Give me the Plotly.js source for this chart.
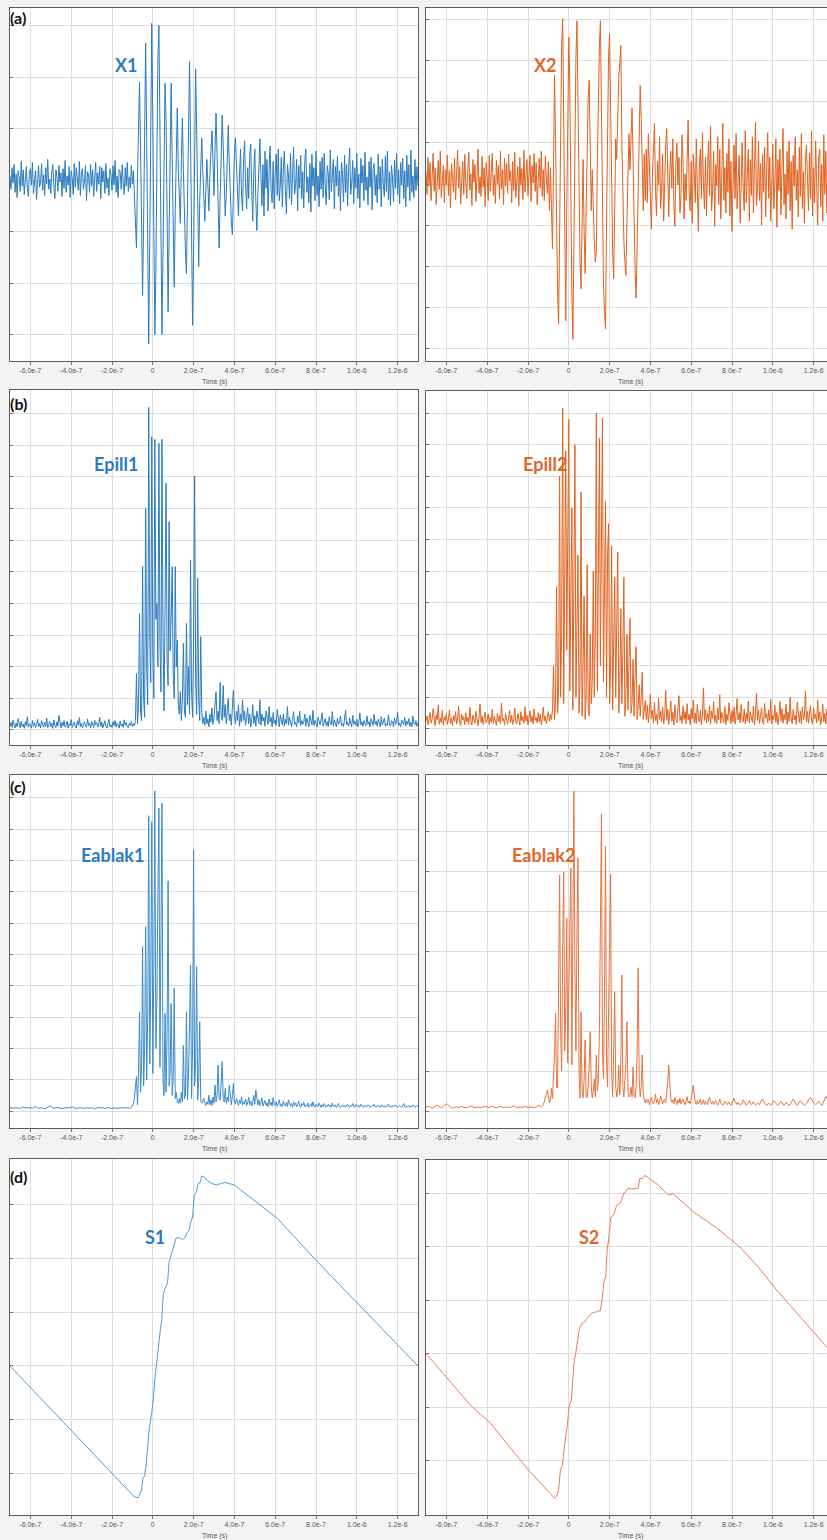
<!DOCTYPE html>
<html>
<head>
<meta charset="utf-8">
<script src="https://cdn.plot.ly/plotly-3.0.1.min.js"></script>
<style>
  html, body { margin: 0; padding: 0; overflow: hidden; background: #f3f3f3; }
  #chart { width: 836px; height: 1540px; }
</style>
</head>
<body>
<div id="chart"></div>
<script>
// Sampling grid of the recorded traces
const timeStart = -7e-7;
const sampleStep = 5e-9;

const xTickValues = [-6e-7, -4e-7, -2e-7, 0, 2e-7, 4e-7, 6e-7, 8e-7, 1e-6, 1.2e-6];
const xTickLabels = ['-6.0e-7', '-4.0e-7', '-2.0e-7', '0', '2.0e-7', '4.0e-7', '6.0e-7', '8.0e-7', '1.0e-6', '1.2e-6'];

// (a) received signals
const x1Values = [
  4,-9,12,-3,15,-12,6,-17,9,2,-11,18,-6,10,-14,3,13,-8,-16,7,
  11,-5,17,-13,2,9,-19,6,14,-7,-2,16,-10,5,-15,12,-4,20,-9,1,
  -13,8,15,-6,-18,10,3,-11,14,-2,7,-16,11,-8,19,-12,4,-5,13,-17,
  9,2,-14,16,-7,12,-3,-10,18,-15,6,11,-9,-1,14,-20,8,5,-12,15,
  -6,10,-16,3,17,-11,7,-4,13,-18,12,-2,9,-13,16,-8,2,-15,11,6,
  -10,14,-5,19,-12,4,-17,10,8,-9,15,-3,-14,12,-6,17,-11,3,-8,14,
  -4,9,-22,-45,-66,5,60,95,30,-50,-112,-40,70,133,40,-80,-159,-60,80,152,
  60,-70,-150,-90,30,120,150,40,-80,-150,-70,30,94,60,-40,-128,-50,40,94,20,
  -60,-104,-30,40,70,10,-30,-42,20,60,10,-40,-70,-91,-20,60,115,40,-60,-141,
  -70,30,108,50,-40,-84,-20,15,41,10,-25,-40,-10,20,-5,-30,5,35,48,20,
  -15,30,65,25,-40,-66,-20,30,63,35,-10,-35,-15,20,53,15,-25,-40,-53,-10,
  25,41,10,-20,-35,5,30,-15,-30,20,38,-5,-28,12,-18,25,35,-10,-40,8,
  30,-20,-49,-15,22,40,5,-25,15,-35,28,-8,20,-30,10,33,-12,-22,18,-28,
  6,25,-15,30,-20,-5,22,-26,12,28,-10,-33,15,5,-18,26,-24,10,32,-14,
  -6,20,-30,14,-8,24,-18,8,-27,19,30,-12,3,-22,16,-31,25,-6,12,-20,
  28,-15,4,-26,18,-9,22,-17,26,-5,-24,14,7,-19,29,-11,2,20,-28,13,
  -6,23,-16,9,-30,17,5,-21,24,-12,15,-25,10,31,-14,-4,19,-23,12,-8,
  26,-18,6,-27,21,-3,14,-20,27,-10,3,-24,18,-7,22,-29,11,16,-15,5,
  -22,25,-9,13,-26,20,-4,-16,23,-11,28,-19,8,-25,14,2,-21,19,-8,26,
  -14,10,-23,17,-5,21,-18,9,-26,24,-7,15,-20,29,-12,4,-17,20,-10,13,
  -6
];

const x2Values = [
  8,-14,22,-6,17,-20,3,26,-11,12,-24,5,19,-9,28,-17,1,14,-22,10,
  -5,24,-15,9,-27,16,2,-12,21,-19,7,29,-8,13,-23,4,18,-14,25,-3,
  -18,11,27,-10,6,-25,20,-2,15,-21,9,30,-13,3,-16,23,-7,12,-26,17,
  1,-20,24,-11,8,26,-15,5,-23,19,-4,14,-18,28,-9,10,-24,21,-6,16,
  -13,25,-1,9,-22,18,-10,27,-17,6,13,-25,22,-5,11,-19,29,-12,4,20,
  -15,8,24,-21,14,-3,26,-11,17,-24,7,21,-8,28,-16,10,-20,23,2,-13,
  18,-30,12,
  -40,-67,10,102,40,-60,-110,-140,-50,60,130,157,50,-90,-137,-30,80,
  139,90,-20,-110,-155,-60,50,120,155,60,-40,-80,-106,-40,20,-50,-91,-30,40,80,
  97,30,-30,10,-40,-60,-80,-70,20,90,130,155,60,-50,-100,-130,-145,-40,60,120,
  142,50,-30,-70,-96,-20,40,20,70,100,115,131,40,-30,-60,-80,-93,-40,20,45,
  10,40,70,20,-50,-90,-115,-60,10,50,92,60,10,-30,25,-20,
  30,-22,45,12,-30,-48,5,38,55,-10,-35,18,-5,42,-28,-12,25,-40,8,33,
  50,-18,-36,10,28,-8,40,-25,-45,15,36,-5,22,-32,-15,44,20,-38,6,-20,
  35,58,-12,-30,18,-42,25,8,-22,40,-8,-50,12,30,-18,46,-5,-28,22,-35,
  10,38,-15,52,-30,-10,28,-45,15,-6,42,-24,30,-38,5,55,-20,12,-32,26,
  -12,40,-35,18,-50,8,34,-18,45,-28,-6,24,-42,15,36,-10,-30,48,-22,5,
  30,-40,20,-15,42,-32,10,56,-25,-8,38,-20,16,-44,25,-12,32,-36,8,46,
  -18,22,-40,14,35,-28,-5,40,-46,20,-10,30,-34,12,50,-24,6,-38,28,-14,
  38,-30,18,-48,24,-6,42,-20,10,-36,32,-16,45,-28,8,-42,20,34,-12,-30,
  26,-18,48,-35,12,-22,38,-8,-44,22,30,-26,15,-40,44,-14,28,-32,6,40,
  -24,18,-38,26,-10
];

// (b) energy, first operator
const epill1Values = [
  1.2,2.4,0.8,3.1,1.5,0.6,2.2,1.0,3.6,1.4,0.7,2.8,1.1,1.9,0.5,2.6,1.3,4.2,0.9,2.0,
  1.6,0.6,3.0,1.2,2.3,0.8,1.7,3.4,1.0,2.1,0.6,2.9,1.4,0.9,2.5,1.1,3.8,0.7,1.8,2.7,
  1.0,2.2,0.5,3.2,1.5,0.8,2.6,1.2,4.6,1.9,0.7,2.4,1.3,3.0,0.9,1.6,2.8,0.6,2.0,1.4,
  3.3,0.8,1.8,2.5,1.1,0.6,2.9,1.5,3.9,1.0,2.2,0.7,1.7,2.6,1.2,0.9,3.5,1.4,2.1,0.6,
  2.7,1.3,0.8,3.1,1.6,2.3,0.9,1.9,4.0,1.1,2.5,0.7,1.5,2.9,1.2,0.6,2.0,3.4,1.0,1.7,
  0.8,2.6,1.4,3.0,0.9,2.2,1.6,0.6,2.8,1.3,1.9,0.8,3.2,1.5,2.4,1.0,0.7,2.1,1.4,2.7,
  1.1,2.0,1.3,
  3,17.9,2,8,36.8,6,3,51.6,10,4,70,20,8,101.9,30,15,92.6,
  25,10,91.8,35,40,20,90.5,28,12,91.8,30,6,40,77.9,22,14,65.8,25,35.8,51.6,
  18,10,51.6,20,28.4,8,5,12.1,3,10,27.4,6,4,33.7,8,20,5,53.7,12,4,
  30,80.2,15,5,47.9,10,3,29.5,6,2,
  4,1.5,6,2,3.5,1,5,2.5,7,1.8,4,9,12.1,3,6,2,15,5,3,14,
  4,8,2,6,10,3,5,1.5,7,12.6,4,2,6,3,8,1.2,5,2.5,9.5,3,
  6,1.5,4,7,2,5,1,3.5,8,2,4.5,1.2,6,3,2,9.5,1.5,5,2.8,4,
  1.2,6,3,1.8,7.4,2.5,4,1,5.5,2,3.2,1.4,6.5,2.2,1,4.8,2.6,1.6,5,1.2,
  3.4,2,7.4,1.5,4,2.8,1,3.6,5.8,1.8,2.4,1,4.4,2.2,6,1.4,3,1.8,2.6,5,
  1.2,3.8,2,1,4.6,2.4,1.6,6.2,1.4,3,2,1,4,2.8,1.6,3.4,5.4,1.2,2.2,3.6,
  1.4,2.6,1,4.2,2,1.6,5.8,1.2,3.2,2.4,1,3.8,1.8,2.6,4.4,1.4,2,1,3.2,6.2,
  1.6,2.4,1.2,3.8,2,1,4.6,1.8,2.8,1.4,3.4,1,2.2,5.4,1.6,2.6,1.2,3,2,1.4,
  4.4,1.8,2.6,1,3.6,2.2,1.4,5,1.8,2.8,1.2,3.4,2,1,4.2,1.6,2.4,3.8,1.2,2,
  1.4,4.8,2,1.2,3,2.6,1,3.8,1.8,2.4,5.6,1.4,2.2,1,3.2,2,1.6,4,1.2,2.8,
  1.8,3.6,1.2,2.4,1,4.4,2,1.6,3,1.2,2.2
];

const epill2Values = [
  2.5,4.1,1.2,3.6,5.2,1.8,3,6.4,2.2,1,4.5,2.8,7.6,1.5,3.4,2,5.8,1.2,3.8,2.6,
  4.8,1.4,2.9,6,1.7,3.5,1,4.2,2.4,5.5,1.6,3.2,7.2,2,1.1,4.6,2.8,3.9,1.3,5.1,
  2.2,3.7,1.5,6.8,2.6,1.2,4.4,3,1.8,5.6,2.4,1,3.8,7.9,2,4.1,1.4,3.3,5.3,1.9,
  2.9,4.7,1.3,3.6,2.1,6.2,1.6,3.9,2.7,1.1,5,2.3,4.2,1.7,8.2,2.5,3.4,1.2,4.8,2.8,
  1.5,3.7,5.9,2,4.3,1.4,3.1,6.6,2.2,1.6,4.9,3.3,1.2,5.4,2.6,3.8,1.8,7,2.4,4.4,
  1.3,3.5,5.7,2.1,4,1.5,6.3,2.7,3.6,1.9,5.1,2.3,4.6,1.4,3.2,6.9,2.5,4.1,1.7,3.8,
  5.5,2.4,4.6,3,
  6,20,3,8,45,5,12,80,10,30,101.6,8,40,88,25,60,98,12,35,70,
  6,45,90,10,30,55,5,14,75,4,20,42,3,10,52,6,4,30,8,15,
  50,10,30,100,12,45,92,20,60,98.4,15,40,72,10,55,65,8,20,58,6,
  30,48,10,40,56,5,14,38,8,25,48,4,10,30,6,22,35,5,8,22,
  4,18,26,3,7,14,4,10,18,3,6,9,
  3,7.5,2,5,11,3.2,6,1.8,8.4,2.6,4.5,1.4,9.8,3,5.6,2.2,7,1.6,4,12.3,
  2.8,6.2,1.5,4.8,8.9,2.4,5.3,1.2,7.6,3.4,2,6.8,10.5,2.6,4.2,1.8,7.3,3,5.5,1.6,
  8,2.9,4.6,1.4,6.4,3.1,9.2,2,5,1.7,7.8,3.6,2.2,5.9,1.3,4.4,13,2.7,6.1,1.9,
  4.9,2.4,7.4,1.5,5.7,3.3,8.6,2.1,4.3,1.6,6.6,2.9,10.8,1.8,5.2,3.5,2,7.1,1.4,4.7,
  2.6,8.3,3.2,1.7,5.8,2.3,6.9,1.5,4.5,9.6,2.8,5.1,1.9,7.7,3,2.2,6.3,1.6,4.9,2.5,
  8.8,1.8,5.4,3.1,2,7.2,1.4,4.6,11.2,2.7,5.9,1.7,3.8,6.7,2.3,1.5,8.1,3.4,4.8,1.9,
  6,2.6,9.4,1.6,4.3,3,7.5,2.1,5.2,1.3,3.9,8.7,2.5,6.4,1.8,4.6,2.9,7.9,1.5,5.3,
  2.4,10.1,3.3,1.7,6.1,2.8,4.4,1.4,8.5,3.6,2,5.7,1.6,7,2.9,4.1,12,2.2,5.5,1.8,
  3.9,7.3,2.5,1.5,6.6,3.2,4.7,1.9,9.1,2.6,5.4,1.4,3.7,7.8,2.2,4.9,1.6,6.3,3,8.4,
  2,5,1.7,4.2,6.8
];

// (c) energy, second operator
const eablak1Values = [
  1.0,1.1,1.0,0.9,1.0,1.2,1.1,1.0,0.9,0.8,0.9,1.0,1.2,1.3,1.1,1.0,0.9,1.0,1.1,1.0,
  0.9,0.8,0.9,1.1,1.3,1.4,1.2,1.0,0.9,0.9,1.0,1.1,1.0,0.8,0.7,0.8,1.0,1.2,1.5,1.6,
  1.4,1.2,1.0,0.9,1.0,1.1,1.3,1.2,1.0,0.9,0.8,0.8,0.9,1.0,1.2,1.1,1.0,0.9,1.0,1.1,
  1.3,1.4,1.2,1.0,0.9,0.8,0.9,1.0,1.1,1.2,1.1,0.9,0.8,0.9,1.0,1.1,1.0,0.9,1.0,1.2,
  1.1,1.0,0.8,0.7,0.8,1.0,1.1,1.2,1.0,0.9,1.0,1.1,0.9,0.8,0.9,1.0,1.2,1.1,0.9,0.8,
  0.9,1.0,1.1,1.0,0.9,0.8,0.9,1.0,1.0,0.9,0.8,0.9,1.0,1.1,1.0,0.9,0.8,0.9,1.0,1.2,
  1.5,2.5,4,
  8,11,2,12,31.7,6,14,52.5,8,20,58.9,10,30,94.3,15,40,92.4,
  12,45,102.2,20,35,70,96.7,14,50,98.3,10,5,31.2,6,25,73.5,8,12,34.4,5,
  10,39.2,4,6,3,2.5,4,2.5,6,3,21,4,5,31.7,3.5,12,28,46.6,4,20,
  83.4,8,15,46.1,3.5,10,28.5,3,2.5,3.5,
  4.1,2.5,1.8,3,2.2,5.1,2,3.6,1.8,4.5,2.5,8.3,3,5,14.7,4,3.5,9,15.8,4,
  3,7.2,2.5,4.5,3,8.3,3.5,2,5,8.8,3,2.2,4,2.8,1.8,3.5,2.4,4.6,2,3,
  2.2,3.8,1.8,2.6,4.4,2,3.2,1.6,2.8,5,2.2,6.7,3,2,3.6,1.8,2.6,4.2,1.6,2.4,
  3.4,1.8,2.6,1.4,3.8,2,2.8,1.6,4.4,2.2,1.8,3,1.5,2.4,3.6,1.6,2.2,1.4,3.2,2,
  1.6,2.8,1.4,3.6,2.2,1.6,2.4,1.2,3,1.8,2.6,1.4,2,3.2,1.6,1.2,2.4,1.8,2.8,1.4,
  2,1.6,2.6,1.2,1.8,2.4,1.4,3,1.6,1.2,2.2,1.8,1.4,2.6,1.6,1.2,2,1.4,2.4,1.8,
  1.2,1.6,2.2,1.4,1.8,1.2,2.6,1.6,1.4,2,1.2,1.8,2.4,1.4,1.2,1.6,2,1.4,1.8,1.2,
  1.6,2.2,1.4,1.2,1.8,1.6,2.4,1.4,1.2,2,1.6,1.4,1.8,1.2,2.2,1.6,1.4,1.2,1.8,1.6,
  1.4,2,1.6,1.2,1.4,1.8,1.6,2.2,1.4,1.2,1.6,1.8,1.4,1.2,2,1.6,1.4,1.8,1.2,1.4,
  1.6,2.2,1.4,1.6,1.2,1.8,1.4,1.6,2,1.4,1.2,1.6,1.8,1.4,1.2,1.6,2.4,1.4,1.2,1.6,
  1.4,1.8,1.2,1.6,1.4,2,1.6,1.2,1.4,1.8,1.6
];

const eablak2Values = [
  1.0,1.1,1.3,1.2,1.0,0.8,0.7,0.8,1.0,1.2,1.4,1.5,1.3,1.1,0.9,0.8,0.9,1.1,1.3,1.6,
  1.8,1.7,1.4,1.1,0.9,0.8,0.7,0.8,1.0,1.1,1.0,0.9,0.8,0.9,1.1,1.2,1.1,0.9,0.8,0.7,
  0.8,0.9,1.0,1.2,1.4,1.3,1.1,0.9,0.8,0.9,1.0,1.1,1.0,0.9,0.8,0.9,1.0,1.2,1.1,1.0,
  0.9,0.8,0.9,1.0,1.1,1.2,1.0,0.9,0.8,0.7,0.8,1.0,1.1,1.2,1.1,0.9,0.8,0.9,1.0,1.1,
  1.0,0.9,0.8,0.9,1.0,1.2,1.3,1.1,0.9,0.8,0.9,1.0,1.0,0.9,0.8,0.9,1.1,1.2,1.0,0.9,
  0.8,0.9,1.0,1.1,1.0,0.9,0.8,0.9,1.0,1.2,1.4,1.3,1.1,1.0,1.2,1.6,2.2,3.5,
  4,5.3,3,2,2.5,5.7,3,8,14,24.4,6,5.7,30,59,20,10,40,59.8,15,25,
  48.2,12,30,50,60.7,11.5,40,80,35,15,45,63.3,10,3.3,24.8,5,3.3,8,17.8,4,
  3.3,6,12,19.8,6,3.3,5,8,3.5,14,5,8,20,45,74.2,15,8,30,66.1,12,
  6,25,45,59.2,10,3.5,15,29.8,6,3.5,5,11.5,4,12,34,6,3.5,8,12,22.3,
  5,3.5,4,6,3.5,11,4,3.3,6,15,35.8,8,3.5,6,14,4,2.5,2,
  3,2.2,2.8,1.6,2.4,3.5,2,1.8,2.6,4.2,2,3,1.6,2.2,3.8,2.4,1.8,2.6,3,2,
  4.5,7.3,11.5,6,3,2.2,2.8,1.8,3.4,2.4,1.6,2.8,2,3.2,1.8,2.4,3,2,1.6,2.6,
  3.6,2,2.4,1.8,3,4.4,6.5,3.2,2,1.6,2.6,1.8,2.2,3,1.6,2,2.8,1.6,2.4,2,
  1.6,2.8,3.4,2.2,1.8,2.4,1.6,2,2.6,1.8,1.4,2.2,3,2,1.6,1.4,1.8,2.4,2,1.6,
  1.8,2.2,1.6,1.4,2,2.6,3.2,2.4,1.8,1.6,2.2,1.8,1.4,1.6,2,2.8,2.2,1.6,1.4,1.8,
  2.2,2.6,2,1.6,1.8,2.4,1.8,1.4,1.6,2,1.8,1.6,2.2,2.8,3,2.4,1.8,1.6,1.4,1.8,
  2,1.6,1.4,1.8,2.4,2.6,2.2,1.8,1.6,1.4,1.6,2,2.4,2,1.6,1.4,1.8,2.2,1.8,1.6,
  1.4,1.6,2,2.6,3,2.6,2,1.6,1.4,1.8,2.2,2.6,2.4,1.8,1.6,1.4,1.6,1.8,2.2,2.8,
  3.2,3.4,3,2.4,2,1.8,1.6,1.8,2.2,2.4,2,1.6,1.4,1.8,2.4,3,3.6,3.2,2.6,2,
  1.8,2,2.4,2.2,1.8
];

// (d) integrated signals, breakpoints in microseconds
const s1TimeUs = [-0.7,-0.402,-0.0915,-0.072,-0.062,-0.055,-0.049,-0.04,-0.031,-0.018,-0.006,0.003,0.011,0.02,0.026,0.036,0.044,0.051,0.06,0.072,0.08,0.092,0.101,0.113,0.129,0.146,0.158,0.167,0.178,0.186,0.195,0.203,0.214,0.222,0.232,0.24,0.252,0.268,0.288,0.314,0.333,0.353,0.374,0.399,0.431,0.513,0.611,0.791,0.987,1.3];
const s1Values = [0,-59,-121,-122,-118,-115,-104,-102,-88.6,-59,-44,-30,-10,2.5,15,32,43,66,72,76.5,96.5,104,110.5,118,119,117,119,123,126,133.6,138,158,161,169,170,176,175,171.6,169,167.6,169,170,169,167.6,163,151,136.7,99.7,61,0];

const s2TimeUs = [-0.698,-0.477,-0.387,-0.2,-0.069,-0.06,-0.05,-0.041,-0.031,-0.02,-0.008,0.0015,0.013,0.025,0.034,0.043,0.051,0.064,0.078,0.092,0.111,0.136,0.155,0.163,0.172,0.181,0.188,0.195,0.206,0.221,0.234,0.253,0.27,0.291,0.307,0.34,0.348,0.361,0.373,0.394,0.438,0.479,0.495,0.511,0.609,0.72,0.838,0.93,1.018,1.263,1.3];
const s2Values = [0,-49,-64,-108,-135,-133,-127,-108,-104,-83.5,-68,-49,-43,-8.7,0.6,13,23,28.7,30,34,38,39.5,40.5,50.5,67.6,72,97,106.5,128,130,139,141,150,155,154,155,164,164,167,164,158,150,148.6,150,133,118.5,100,81,60,6.8,-1];

// ---- drawing ----
const W = 836, H = 1540;
const fx = px => px / W;
const fy = px => 1 - px / H;
const sampledTime = vals => vals.map((_, i) => timeStart + i * sampleStep);
const usToSeconds = arr => arr.map(v => v * 1e-6);

const BLUE = '#2b7bbf', ORANGE = '#e2652a';

const panels = [
  { label: 'X1', x: sampledTime(x1Values), y: x1Values, color: '#2a7bc0', col: 0, top: 8, bottom: 361, yr: [-175.7, 167], dt: 50, t0: 0, lx: 127, ly: 65, letter: '(a)', lcy: 17.5, tc: BLUE },
  { label: 'X2', x: sampledTime(x2Values), y: x2Values, color: '#e2621f', col: 1, top: 8, bottom: 361, yr: [-176.2, 167.4], dt: 40, t0: -4, lx: 545, ly: 65, tc: ORANGE },
  { label: 'Epill1', x: sampledTime(epill1Values), y: epill1Values, color: '#2a7bc0', col: 0, top: 390, bottom: 745, yr: [-4.74, 107.4], dt: 10, t0: 0, lx: 116, ly: 464, letter: '(b)', lcy: 403, tc: BLUE },
  { label: 'Epill2', x: sampledTime(epill2Values), y: epill2Values, color: '#e2621f', col: 1, top: 391, bottom: 745, yr: [-5.1, 107], dt: 10, t0: 0, lx: 545, ly: 464, tc: ORANGE },
  { label: 'Eablak1', x: sampledTime(eablak1Values), y: eablak1Values, color: '#3a8bcc', col: 0, top: 775, bottom: 1128, yr: [-5.4, 107.3], dt: 10, t0: 0, lx: 112, ly: 855, letter: '(c)', lcy: 786, tc: BLUE },
  { label: 'Eablak2', x: sampledTime(eablak2Values), y: eablak2Values, color: '#e8733f', col: 1, top: 775, bottom: 1128, yr: [-4.25, 84], dt: 10, t0: 0, lx: 543, ly: 855, tc: ORANGE },
  { label: 'S1', x: usToSeconds(s1TimeUs), y: s1Values, color: '#459fdf', col: 0, top: 1159, bottom: 1515, yr: [-138, 191.7], dt: 50, t0: 0, lx: 155, ly: 1237, letter: '(d)', lcy: 1176, tc: BLUE },
  { label: 'S2', x: usToSeconds(s2TimeUs), y: s2Values, color: '#ef7d52', col: 1, top: 1160, bottom: 1515, yr: [-150.5, 181.3], dt: 50, t0: 0, lx: 589, ly: 1237, tc: ORANGE }
];

const colLeft = [10, 426];
const plotWidth = 408;

const traces = [];
const layout = {
  width: W, height: H,
  margin: { l: 0, r: 0, t: 0, b: 0 },
  paper_bgcolor: '#f3f3f3',
  plot_bgcolor: '#ffffff',
  showlegend: false,
  font: { family: 'Liberation Sans, Arial, sans-serif', color: '#444' },
  annotations: []
};

panels.forEach((p, k) => {
  const n = k + 1;
  const xa = n === 1 ? 'xaxis' : 'xaxis' + n;
  const ya = n === 1 ? 'yaxis' : 'yaxis' + n;
  const xr = n === 1 ? 'x' : 'x' + n;
  const yr = n === 1 ? 'y' : 'y' + n;
  const left = colLeft[p.col];

  traces.push({
    type: 'scatter', mode: 'lines', x: p.x, y: p.y,
    xaxis: xr, yaxis: yr,
    line: { color: p.color, width: 1 },
    hoverinfo: 'skip'
  });

  layout[xa] = {
    domain: [fx(left), fx(left + plotWidth)],
    anchor: yr,
    range: [-7e-7, 1.3e-6],
    tickmode: 'array', tickvals: xTickValues, ticktext: xTickLabels,
    tickfont: { size: 7, color: '#555' },
    ticks: 'outside', ticklen: 3, tickcolor: '#777', tickwidth: 1,
    showgrid: true, gridcolor: '#dcdcdc', gridwidth: 1,
    zeroline: false,
    showline: true, linecolor: '#5a5a5a', linewidth: 1, mirror: true,
    fixedrange: true
  };
  layout[ya] = {
    domain: [fy(p.bottom), fy(p.top)],
    anchor: xr,
    range: p.yr,
    tick0: p.t0, dtick: p.dt,
    showticklabels: false,
    ticks: 'inside', ticklen: 3, tickcolor: '#777',
    showgrid: true, gridcolor: '#dcdcdc', gridwidth: 1,
    zeroline: false,
    showline: true, linecolor: '#5a5a5a', linewidth: 1, mirror: true,
    fixedrange: true
  };

  // axis title under each panel
  layout.annotations.push({
    xref: 'paper', yref: 'paper',
    x: fx(left + plotWidth / 2), y: fy(p.bottom + 21),
    xanchor: 'center', yanchor: 'middle',
    text: 'Time (s)', showarrow: false,
    font: { size: 7, color: '#555', family: 'Liberation Sans, Arial, sans-serif' }
  });

  // signal name inside the panel
  layout.annotations.push({
    xref: 'paper', yref: 'paper',
    x: fx(p.lx), y: fy(p.ly),
    xanchor: 'center', yanchor: 'middle',
    text: '<b>' + p.label + '</b>', showarrow: false,
    font: { size: 18, color: p.tc, family: 'Lato, Open Sans, sans-serif' }
  });

  if (p.letter) {
    layout.annotations.push({
      xref: 'paper', yref: 'paper',
      x: fx(8), y: fy(p.lcy),
      xanchor: 'left', yanchor: 'middle',
      text: '<b>' + p.letter + '</b>', showarrow: false,
      font: { size: 16, color: '#111', family: 'Lato, Open Sans, sans-serif' }
    });
  }
});

Plotly.newPlot('chart', traces, layout, { staticPlot: true, displayModeBar: false });
</script>
</body>
</html>
